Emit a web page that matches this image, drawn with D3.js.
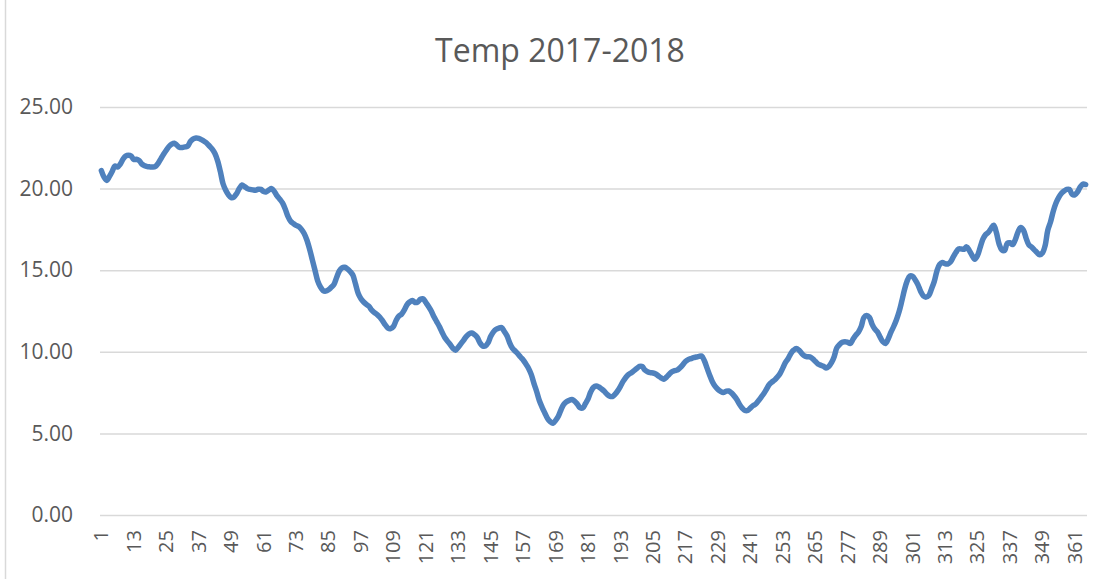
<!DOCTYPE html>
<html>
<head>
<meta charset="utf-8">
<script src="https://cdn.jsdelivr.net/npm/d3@7"></script>
<style>
  body { margin: 0; background: #ffffff; }
  #chart { display: block; }
  .grid line { stroke: #d9d9d9; stroke-width: 1.5; }
  .label { font-family: "Open Sans", sans-serif; fill: #595959; }
</style>
</head>
<body>
<svg id="chart" width="1103" height="579"></svg>
<script>
//-----------------------------------------------------//

// Chart data (daily temperature, day 1..365)
const chartTitle = "Temp 2017-2018";

const temps = [
  21.10, 20.70, 20.50, 20.75, 21.05, 21.38, 21.32, 21.50, 21.80, 22.00,
  22.05, 22.00, 21.78, 21.80, 21.72, 21.50, 21.40, 21.35, 21.33, 21.32,
  21.36, 21.55, 21.82, 22.10, 22.35, 22.58, 22.72, 22.78, 22.65, 22.52,
  22.52, 22.55, 22.62, 22.90, 23.05, 23.10, 23.08, 23.00, 22.90, 22.78,
  22.60, 22.42, 22.15, 21.70, 21.05, 20.30, 19.90, 19.62, 19.45, 19.48,
  19.69, 20.00, 20.22, 20.12, 20.00, 19.95, 19.92, 19.90, 19.96, 19.95,
  19.82, 19.80, 19.92, 20.00, 19.82, 19.55, 19.35, 19.12, 18.75, 18.30,
  18.00, 17.86, 17.75, 17.68, 17.50, 17.25, 16.85, 16.30, 15.65, 15.00,
  14.35, 13.98, 13.75, 13.72, 13.80, 13.95, 14.12, 14.55, 14.95, 15.15,
  15.18, 15.08, 14.92, 14.70, 14.15, 13.57, 13.25, 13.05, 12.90, 12.78,
  12.55, 12.40, 12.28, 12.12, 11.90, 11.65, 11.45, 11.42, 11.55, 11.92,
  12.18, 12.30, 12.55, 12.88, 13.05, 13.15, 13.02, 13.05, 13.22, 13.25,
  13.02, 12.78, 12.50, 12.15, 11.85, 11.55, 11.20, 10.88, 10.65, 10.45,
  10.22, 10.10, 10.28, 10.50, 10.72, 10.95, 11.10, 11.15, 11.05, 10.88,
  10.55, 10.36, 10.35, 10.55, 10.95, 11.22, 11.38, 11.45, 11.48, 11.25,
  10.98, 10.55, 10.22, 10.05, 9.88, 9.68, 9.50, 9.25, 8.98, 8.60,
  8.05, 7.55, 7.00, 6.60, 6.25, 5.92, 5.72, 5.62, 5.80, 6.05,
  6.45, 6.78, 6.94, 7.02, 7.08, 6.98, 6.80, 6.58, 6.55, 6.82,
  7.12, 7.55, 7.82, 7.90, 7.84, 7.72, 7.58, 7.40, 7.28, 7.26,
  7.40, 7.62, 7.90, 8.20, 8.44, 8.62, 8.72, 8.85, 8.98, 9.10,
  9.10, 8.88, 8.78, 8.72, 8.70, 8.64, 8.52, 8.40, 8.32, 8.45,
  8.62, 8.78, 8.85, 8.88, 9.02, 9.20, 9.40, 9.52, 9.58, 9.64,
  9.68, 9.72, 9.74, 9.45, 9.00, 8.55, 8.15, 7.88, 7.70, 7.58,
  7.51, 7.58, 7.60, 7.48, 7.30, 7.08, 6.78, 6.55, 6.40, 6.40,
  6.55, 6.70, 6.80, 7.00, 7.22, 7.45, 7.72, 8.00, 8.15, 8.27,
  8.45, 8.67, 9.00, 9.35, 9.59, 9.90, 10.10, 10.20, 10.10, 9.90,
  9.75, 9.70, 9.69, 9.58, 9.42, 9.25, 9.18, 9.12, 9.00, 9.10,
  9.33, 9.70, 10.25, 10.45, 10.58, 10.62, 10.58, 10.51, 10.78, 11.02,
  11.22, 11.55, 12.10, 12.22, 12.12, 11.70, 11.40, 11.22, 10.90, 10.62,
  10.51, 10.80, 11.20, 11.55, 11.95, 12.45, 13.10, 13.80, 14.35, 14.65,
  14.62, 14.40, 14.10, 13.70, 13.42, 13.35, 13.45, 13.85, 14.30, 14.95,
  15.35, 15.47, 15.40, 15.38, 15.50, 15.80, 16.08, 16.30, 16.30, 16.28,
  16.43, 16.20, 15.90, 15.67, 15.90, 16.40, 16.90, 17.18, 17.32, 17.55,
  17.75, 17.30, 16.60, 16.25, 16.20, 16.65, 16.68, 16.57, 16.88, 17.35,
  17.62, 17.45, 16.95, 16.55, 16.42, 16.25, 16.08, 15.94, 16.05, 16.50,
  17.45, 17.95, 18.60, 19.10, 19.45, 19.70, 19.85, 19.95, 19.95, 19.65,
  19.62, 19.80, 20.10, 20.27, 20.25
];

const days = d3.range(1, temps.length + 1);
const xTickLabels = d3.range(1, 366, 12);
const yTickLabels = [0, 5, 10, 15, 20, 25];

//-----------------------------------------------------//

var svg = null;
var plotLeft = 100;
var plotRight = 1087;
var plotTop = 107;
var plotBottom = 515;

document.addEventListener("DOMContentLoaded", function()
{
  svg = d3.select("#chart");
  draw();
});

function draw()
{
  // chart area border (left edge visible)
  svg.append("line")
    .attr("x1", 5.5).attr("x2", 5.5)
    .attr("y1", 0).attr("y2", 579)
    .attr("stroke", "#d9d9d9")
    .attr("stroke-width", 1.5);

  let x = d3.scaleBand()
    .domain(days)
    .range([plotLeft, plotRight])
    .padding(0);

  let y = d3.scaleLinear()
    .domain([0, 25])
    .range([plotBottom, plotTop]);

  // title
  svg.append("text")
    .attr("class", "label")
    .attr("x", 560)
    .attr("y", 62)
    .attr("text-anchor", "middle")
    .style("font-size", "32px")
    .text(chartTitle);

  // horizontal gridlines + y labels
  let yAxis = d3.axisLeft(y)
    .tickValues(yTickLabels)
    .tickSize(-(plotRight - plotLeft))
    .tickPadding(27)
    .tickFormat(d3.format(".2f"));

  let gy = svg.append("g")
    .attr("class", "grid")
    .attr("transform", `translate(${plotLeft},0)`)
    .call(yAxis);
  gy.select(".domain").remove();
  gy.selectAll("text")
    .attr("class", "label")
    .style("font-size", "21px");

  // x labels, rotated
  let xAxis = d3.axisBottom(x)
    .tickValues(xTickLabels)
    .tickSize(0)
    .tickPadding(0);

  let gx = svg.append("g")
    .attr("transform", `translate(0,${plotBottom})`)
    .call(xAxis);
  gx.select(".domain").remove();
  gx.selectAll("text")
    .attr("class", "label")
    .style("font-size", "20px")
    .attr("transform", "rotate(-90)")
    .attr("x", -15)
    .attr("y", 0)
    .attr("dy", "0.35em")
    .style("text-anchor", "end");

  // the temperature line
  let line = d3.line()
    .x(d => x(d.day) + x.bandwidth() / 2)
    .y(d => y(d.value))
    .curve(d3.curveCatmullRom);

  let points = days.map((d, i) => ({ day: d, value: temps[i] }));

  svg.append("path")
    .datum(points)
    .attr("fill", "none")
    .attr("stroke", "#4f81bd")
    .attr("stroke-width", 5.5)
    .attr("stroke-linejoin", "round")
    .attr("stroke-linecap", "round")
    .attr("d", line);
}
</script>
</body>
</html>
